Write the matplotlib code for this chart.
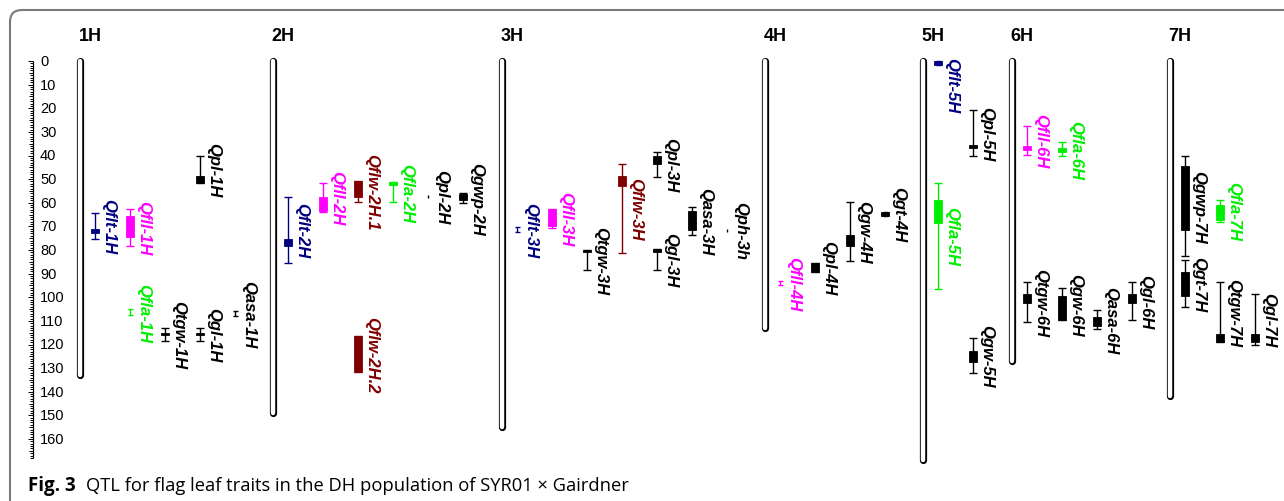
import matplotlib
matplotlib.use('Agg')
import matplotlib.pyplot as plt
from matplotlib.patches import FancyBboxPatch, Rectangle

# chromosomes and their lengths (cM)
chrom_names = ['1H', '2H', '3H', '4H', '5H', '6H', '7H']
chrom_len = [133, 149, 155, 113, 169, 127, 142]

# QTL: name, chromosome, CI start/end, peak box start/end (cM)
qtl_names = ['Qflt-1H', 'Qfll-1H', 'Qfla-1H', 'Qtgw-1H', 'Qpl-1H', 'Qgl-1H', 'Qasa-1H',
             'Qflt-2H', 'Qfll-2H', 'Qflw-2H.1', 'Qflw-2H.2', 'Qfla-2H', 'Qpl-2H', 'Qgwp-2H',
             'Qflt-3H', 'Qfll-3H', 'Qtgw-3H', 'Qflw-3H', 'Qpl-3H', 'Qgl-3H', 'Qasa-3H', 'Qph-3h',
             'Qfll-4H', 'Qpl-4H', 'Qgw-4H', 'Qgt-4H',
             'Qflt-5H', 'Qfla-5H', 'Qpl-5H', 'Qgw-5H',
             'Qfll-6H', 'Qfla-6H', 'Qtgw-6H', 'Qgw-6H', 'Qasa-6H', 'Qgl-6H',
             'Qgwp-7H', 'Qgt-7H', 'Qfla-7H', 'Qtgw-7H', 'Qgl-7H']
qtl_chrom = ['1H'] * 7 + ['2H'] * 7 + ['3H'] * 8 + ['4H'] * 4 + ['5H'] * 4 + ['6H'] * 6 + ['7H'] * 5
ci_start = [64.3, 62.6, 105.0, 113.0, 40.0, 113.0, 106.0,
            57.6, 51.6, 50.8, 116.4, 51.2, 56.8, 55.9,
            70.3, 62.6, 80.0, 43.6, 38.5, 79.6, 61.8, 71.0,
            93.2, 85.5, 59.7, 63.9,
            0.0, 51.6, 20.7, 117.2,
            27.5, 34.3, 93.5, 96.0, 105.4, 93.5,
            40.2, 84.2, 58.8, 93.5, 98.6]
ci_end = [75.3, 78.3, 107.5, 118.5, 51.6, 118.5, 108.0,
          85.5, 64.0, 59.7, 131.6, 59.7, 57.9, 60.0,
          72.4, 70.5, 88.5, 81.3, 49.1, 88.5, 73.7, 72.2,
          94.8, 89.3, 84.7, 65.6,
          1.5, 96.5, 40.2, 132.0,
          39.8, 40.2, 110.5, 109.6, 113.4, 109.6,
          82.5, 104.0, 68.1, 119.0, 120.2]
box_start = [71.0, 65.6, 106.2, 115.0, 48.7, 115.0, 107.0,
             75.3, 57.6, 50.8, 116.4, 51.2, 57.3, 56.2,
             71.3, 62.6, 79.8, 48.7, 40.2, 79.6, 63.5, 71.6,
             93.9, 85.5, 73.7, 63.9,
             0.0, 58.8, 35.5, 122.7,
             36.0, 36.8, 98.6, 99.5, 108.4, 98.6,
             44.4, 89.3, 61.0, 115.6, 115.6]
box_end = [73.0, 74.5, 106.2, 116.0, 51.6, 116.0, 107.0,
           78.3, 63.5, 57.6, 131.6, 52.5, 57.3, 58.8,
           71.3, 70.0, 81.0, 52.9, 43.6, 81.0, 71.5, 71.6,
           93.9, 89.3, 78.3, 65.6,
           1.5, 68.6, 36.8, 127.4,
           37.7, 38.5, 102.4, 109.6, 112.2, 102.4,
           71.5, 99.5, 67.2, 119.0, 119.0]

# layout (pixels)
chrom_x = [80, 273, 502, 765, 923, 1012, 1170]
qtl_col = [0, 1, 1, 2, 3, 3, 4,
           0, 1, 2, 2, 3, 4, 5,
           0, 1, 2, 3, 4, 4, 5, 6,
           0, 1, 2, 3,
           0, 0, 1, 1,
           0, 1, 0, 1, 2, 3,
           0, 0, 1, 1, 2]
trait_colors = {'flt': '#000080', 'fll': '#ff00ff', 'fla': '#00ee00', 'flw': '#800000'}

W, H = 1284, 502
PX = 2.3625          # pixels per cM
Y0 = 62              # pixel row of 0 cM

fig = plt.figure(figsize=(W / 100, H / 100), dpi=100)
ax = fig.add_axes([0, 0, 1, 1])
ax.set_xlim(0, W)
ax.set_ylim((H - Y0) / PX, -Y0 / PX)
ax.axis('off')

lab_font = dict(family=['Liberation Sans', 'DejaVu Sans'], fontweight='bold',
                fontstyle='italic', fontsize=12)

# ruler
ax.vlines(33, 0, 168, color='black', lw=0.9)
for v in range(0, 169):
    if v % 10 == 0:
        ln = 5
    elif v % 5 == 0:
        ln = 4
    else:
        ln = 3
    ax.hlines(v, 33 - ln, 33, color='black', lw=0.7)
for v in range(0, 161, 10):
    ax.text(40, v, str(v), ha='left', va='center', fontsize=10.5,
            family=['Liberation Sans', 'DejaVu Sans'])

# chromosomes
for name, ln, x in zip(chrom_names, chrom_len, chrom_x):
    ax.plot([x, x], [0, ln], color='black', lw=5.2, solid_capstyle='round', zorder=2)
    ax.plot([x, x], [0, ln], color='white', lw=3.2, solid_capstyle='round', zorder=3)
    ax.text(x + 10, -11, name, ha='center', va='center', fontsize=13, fontweight='bold',
            family=['Liberation Sans', 'DejaVu Sans'])

# QTLs
for i, name in enumerate(qtl_names):
    x = chrom_x[chrom_names.index(qtl_chrom[i])] + 15 + 35 * qtl_col[i]
    c = trait_colors.get(name[1:4], 'black')
    span = ci_end[i] - ci_start[i]
    ax.vlines(x, ci_start[i], ci_end[i], color=c, lw=1.0, zorder=4)
    if span > 1.4:
        cw = 4 if span > 3 else 2.5
        ax.hlines([ci_start[i], ci_end[i]], x - cw, x + cw, color=c, lw=1.0, zorder=4)
    if box_end[i] > box_start[i]:
        ax.add_patch(Rectangle((x - 4, box_start[i]), 8, box_end[i] - box_start[i],
                               facecolor=c, edgecolor=c, lw=0.6, zorder=5))
    mid = (ci_start[i] + ci_end[i]) / 2
    if mid < 12:
        ax.text(x + 14, -1.8, name, rotation=-90, ha='center', va='top', color=c, **lab_font)
    else:
        ax.text(x + 14, mid, name, rotation=-90, ha='center', va='center', color=c, **lab_font)

# frame and caption
ov = fig.add_axes([0, 0, 1, 1], facecolor='none')
ov.set_xlim(0, W)
ov.set_ylim(H, 0)
ov.axis('off')
ov.add_patch(FancyBboxPatch((10, 11), 1400, 600, boxstyle='round,pad=0,rounding_size=12',
                            facecolor='none', edgecolor='#7a7a7a', lw=1.5))
ov.text(28, 486, 'Fig. 3', fontsize=13.5, fontweight='bold', va='center', ha='left',
        family=['Open Sans', 'DejaVu Sans'])
ov.text(86, 486, 'QTL for flag leaf traits in the DH population of SYR01 \u00d7 Gairdner',
        fontsize=13.2, va='center', ha='left', family=['Open Sans', 'DejaVu Sans'])

fig.savefig('out.png', dpi=100)
